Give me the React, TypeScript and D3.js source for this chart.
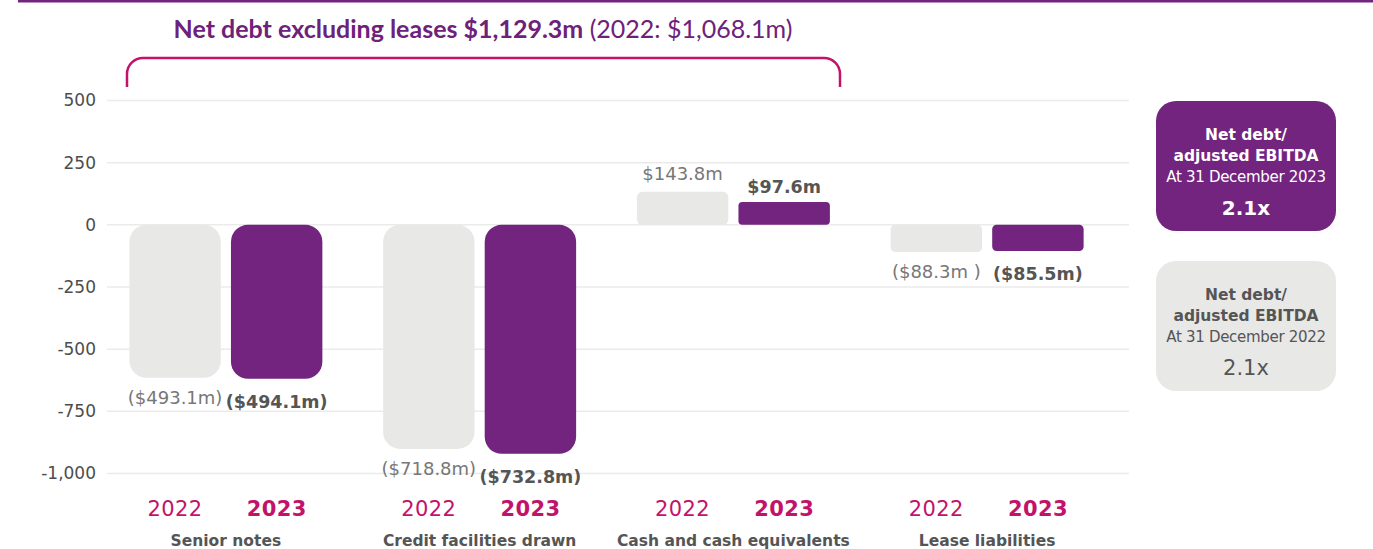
import * as d3 from 'd3'

const W = 1373
const H = 549

const PURPLE = '#72247f'
const GREY = '#e8e8e7'
const MAGENTA = '#c2126a'
const TEXT = '#555555'

// categories and series
const categories = ['Senior notes', 'Credit facilities drawn', 'Cash and cash equivalents', 'Lease liabilities']
const years = ['2022', '2023']
// bar extents (the drawn bars are not to the label scale)
const bars2022 = [-615, -901, 133, -109]
const bars2023 = [-619, -921, 92, -105]
const labels2022 = ['($493.1m)', '($718.8m)', '$143.8m', '($88.3m )']
const labels2023 = ['($494.1m)', '($732.8m)', '$97.6m', '($85.5m)']
const yTicks = [500, 250, 0, -250, -500, -750, -1000]

const boxes = [
  { fill: PURPLE, color: '#ffffff', date: 'At 31 December 2023', value: '2.1x', boldValue: true },
  { fill: GREY, color: TEXT, date: 'At 31 December 2022', value: '2.1x', boldValue: false },
]

const FONT = "'DejaVu Sans', sans-serif"

const fmt = d3.formatLocale({ decimal: '.', thousands: ',', grouping: [3], currency: ['$', ''], minus: '-' }).format(',')

export default function App() {
  const y = d3.scaleLinear().domain([-1000, 500]).range([473.5, 100.5])
  const x0 = d3.scaleBand<string>().domain(categories).range([99, 1114])
  const x1 = d3.scaleBand<string>().domain(years).range([0, 193]).paddingInner(0.1)
  const groupOff = (x0.bandwidth() - 193) / 2
  const bw = x1.bandwidth()

  const series = [
    { year: '2022', values: bars2022, labels: labels2022, fill: GREY, label: '#777777', bold: false, below: 26, above: -12 },
    { year: '2023', values: bars2023, labels: labels2023, fill: PURPLE, label: TEXT, bold: true, below: 29, above: -9 },
  ]

  const bracket = d3.path()
  bracket.moveTo(127, 87)
  bracket.lineTo(127, 74)
  bracket.arcTo(127, 58, 143, 58, 16)
  bracket.lineTo(824, 58)
  bracket.arcTo(840, 58, 840, 74, 16)
  bracket.lineTo(840, 87)

  return (
    <svg width={W} height={H} style={{ position: 'absolute', left: 0, top: 0, fontFamily: FONT }}>
      <rect x={18} y={0} width={W - 18} height={2.5} fill={PURPLE} />

      <text x={483} y={38} textAnchor="middle" fill="#6e2179" fontFamily="Lato, sans-serif" fontSize={25}>
        <tspan fontWeight="bold">Net debt excluding leases $1,129.3m</tspan>
        <tspan> (2022: $1,068.1m)</tspan>
      </text>
      <path d={bracket.toString()} fill="none" stroke={MAGENTA} strokeWidth={2.5} />

      {yTicks.map(t => (
        <g key={t}>
          <line x1={107} x2={1129} y1={y(t)} y2={y(t)} stroke="#ebebeb" strokeWidth={1.5} />
          <text x={96} y={y(t)} dy="0.35em" textAnchor="end" fontSize={17} fill="#4d4d4d">{fmt(t)}</text>
        </g>
      ))}

      {categories.map((c, i) => {
        const gx = (x0(c) ?? 0) + groupOff
        return (
          <g key={c}>
            {series.map(s => {
              const v = s.values[i]
              const bx = gx + (x1(s.year) ?? 0)
              const top = Math.min(y(v), y(0))
              const h = Math.abs(y(v) - y(0))
              const r = Math.min(17, h / 6)
              const cx = bx + bw / 2
              const ly = v < 0 ? y(v) + s.below : y(v) + s.above
              return (
                <g key={s.year}>
                  <rect x={bx} y={top} width={bw} height={h} rx={r} ry={r} fill={s.fill} />
                  <text x={cx} y={ly} textAnchor="middle" fontSize={s.bold ? 17.5 : 18} fontWeight={s.bold ? 'bold' : 'normal'} fill={s.label}>
                    {s.labels[i]}
                  </text>
                  <text x={cx} y={516} textAnchor="middle" fontSize={21} letterSpacing={0.4} fontWeight={s.bold ? 'bold' : 'normal'} fill={MAGENTA}>
                    {s.year}
                  </text>
                </g>
              )
            })}
            <text x={gx + 96.5} y={546} textAnchor="middle" fontSize={15.5} fontWeight="bold" fill={TEXT}>{c}</text>
          </g>
        )
      })}

      {boxes.map((b, i) => {
        const by = i === 0 ? 101 : 261
        return (
          <g key={i}>
            <rect x={1156} y={by} width={180} height={130} rx={20} ry={20} fill={b.fill} />
            <text x={1246} y={by + 39} textAnchor="middle" fontSize={15.5} fontWeight="bold" fill={b.color}>Net debt/</text>
            <text x={1246} y={by + 60} textAnchor="middle" fontSize={15.5} fontWeight="bold" fill={b.color}>adjusted EBITDA</text>
            <text x={1246} y={by + 81} textAnchor="middle" fontSize={15} letterSpacing={-0.3} fill={b.color}>{b.date}</text>
            <text x={1246} y={by + 114} textAnchor="middle" fontSize={b.boldValue ? 20 : 21} fontWeight={b.boldValue ? 'bold' : 'normal'} fill={b.color}>{b.value}</text>
          </g>
        )
      })}
    </svg>
  )
}
